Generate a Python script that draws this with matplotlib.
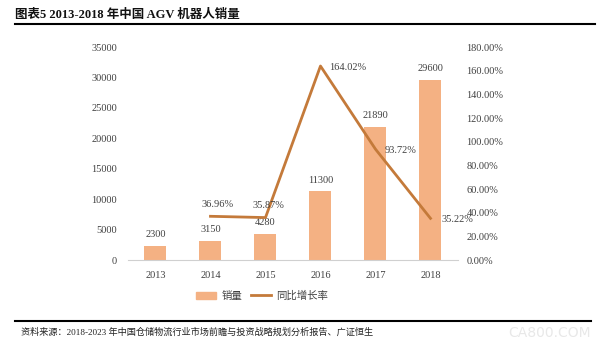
import matplotlib.pyplot as plt
import numpy as np
from matplotlib.lines import Line2D

# Data
years = ['2013', '2014', '2015', '2016', '2017', '2018']
sales = [2300, 3150, 4280, 11300, 21890, 29600]
growth_years = ['2014', '2015', '2016', '2017', '2018']
growth = [36.96, 35.87, 164.02, 93.72, 35.22]

bar_color = '#F4B183'
line_color = '#C47A3A'
text_color = '#404040'
serif = ['Liberation Serif', 'Noto Sans CJK SC']
cjk = ['Noto Sans CJK SC', 'DejaVu Sans']

fig = plt.figure(figsize=(6, 3.49), dpi=100)
ax = fig.add_axes([0.2133, 0.255, 0.55, 0.61])
ax2 = ax.twinx()

x = np.arange(len(years))
bars = ax.bar(x, sales, width=0.4, color=bar_color, zorder=2)
for xi, v in zip(x, sales):
    ax.text(xi, v + 1100, str(v), ha='center', va='bottom',
            fontsize=7.5, family=serif, color=text_color)

ax.set_xlim(-0.5, 5.5)
ax.set_ylim(0, 35000)
ax.set_yticks(range(0, 35001, 5000))
ax.set_xticks(x)
ax.set_xticklabels(years)
for s in ['top', 'right', 'left']:
    ax.spines[s].set_visible(False)
ax.spines['bottom'].set_color('#D0D0D0')
ax.tick_params(axis='both', length=0, labelsize=7.5, labelcolor=text_color, pad=8)
for lab in ax.get_xticklabels() + ax.get_yticklabels():
    lab.set_family(serif)

gx = [years.index(y) for y in growth_years]
ax2.plot(gx, growth, color=line_color, lw=2, zorder=3)
ax2.set_ylim(0, 180)
ax2.set_yticks(range(0, 181, 20))
ax2.set_yticklabels([f'{t:.2f}%' for t in range(0, 181, 20)])
for s in ['top', 'right', 'left', 'bottom']:
    ax2.spines[s].set_visible(False)
ax2.tick_params(axis='y', length=0, labelsize=7.5, labelcolor=text_color, pad=6)
for lab in ax2.get_yticklabels():
    lab.set_family(serif)

# growth labels
offsets = [(0.12, 10, 'center'), (0.05, 10, 'center'), (0.15, -1, 'left'),
           (0.17, -1, 'left'), (0.2, -1, 'left')]
for xi, g, (dx, dy, ha) in zip(gx, growth, offsets):
    ax2.text(xi + dx, g + dy, f'{g:.2f}%', ha=ha, va='center',
             fontsize=7.5, family=serif, color=text_color)

handles = [plt.Rectangle((0, 0), 1, 1, color=bar_color),
           Line2D([0], [0], color=line_color, lw=2)]
fig.legend(handles, ['销量', '同比增长率'], loc='center', bbox_to_anchor=(0.437, 0.152),
           ncol=2, frameon=False, prop={'family': cjk, 'size': 7.5},
           handlelength=1.9, handletextpad=0.5, columnspacing=0.9,
           labelcolor=text_color)

# title and source
fig.text(0.025, 0.958, '图表5 2013-2018 年中国 AGV 机器人销量', fontsize=9,
         fontweight='bold', family=serif, va='center', ha='left', color='#111111')
fig.add_artist(Line2D([0.025, 0.992], [0.93, 0.93], color='black', lw=1.5))
fig.add_artist(Line2D([0.025, 0.985], [0.08, 0.08], color='black', lw=1.5))
fig.text(0.035, 0.048, '资料来源：2018-2023 年中国仓储物流行业市场前瞻与投资战略规划分析报告、广证恒生',
         fontsize=6.6, family=serif, va='center', ha='left', color='#222222')
fig.text(0.985, 0.045, 'CA800.COM', fontsize=10, color='#E8E8E8', ha='right',
         va='center', family='DejaVu Sans')

fig.savefig('out.png', dpi=100)
